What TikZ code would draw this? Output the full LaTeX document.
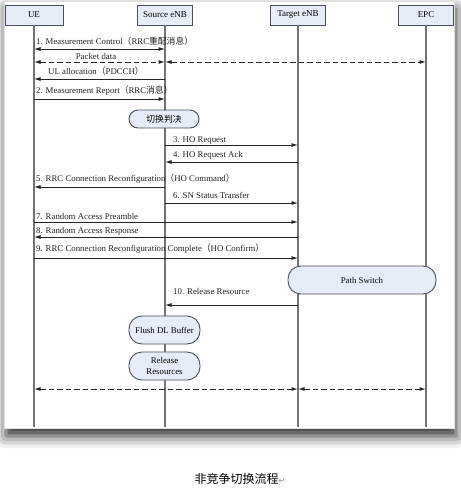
\documentclass[tikz,border=0pt]{standalone}
\usepackage{fontspec}
\setmainfont{Liberation Serif}
\newfontfamily\zhfont{Noto Sans CJK SC}
\newfontfamily\djfont{DejaVu Sans}
\usetikzlibrary{arrows.meta,shadows.blur}
\definecolor{boxfill}{RGB}{230,236,248}
\definecolor{boxline}{RGB}{75,78,88}
\definecolor{lifec}{RGB}{115,115,115}
\definecolor{msgc}{RGB}{35,35,35}
\begin{document}
\begin{tikzpicture}[x=1pt,y=-1pt,
  head/.style={draw=boxline,line width=0.9pt,fill=boxfill,minimum width=55pt,minimum height=20pt,inner sep=0pt,font=\fontsize{9}{10}\selectfont},
  life/.style={draw=lifec,line width=1.4pt},
  rbox/.style={draw=boxline,line width=0.9pt,fill=boxfill,rounded corners=9pt,inner sep=0pt,align=center,font=\fontsize{8.8}{11}\selectfont},
  msg/.style={draw=msgc,line width=0.9pt,-{Latex[length=6.5pt,width=4pt]}},
  dmsg/.style={draw=msgc,line width=1pt,dash pattern=on 5.5pt off 3pt,{Latex[length=6.5pt,width=4pt]}-{Latex[length=6.5pt,width=4pt]}},
  lbl/.style={anchor=base west,inner sep=0pt,font=\fontsize{8.8}{10}\selectfont,text=msgc}]
\useasboundingbox (0,0) rectangle (461,488);
\fill[white,draw=black!12,blur shadow={shadow xshift=2pt,shadow yshift=-8pt,shadow blur radius=12pt,shadow opacity=85}] (4,1) rectangle (454,428);

% headers
\node[head,minimum width=58pt] (ue) at (34,15) {UE};
\node[head] (src) at (165,15) {Source eNB};
\node[head] (tgt) at (298,15) {Target eNB};
\node[head] (epc) at (426,15) {EPC};

% lifeline ends
\coordinate (ueE) at (34,427);
\coordinate (srcE) at (165,427);
\coordinate (tgtE) at (298,427);
\coordinate (epcE) at (426,427);
\draw[life] (ue.south) -- (ueE);
\draw[life] (src.south) -- (srcE);
\draw[life] (tgt.south) -- (tgtE);
\draw[life] (epc.south) -- (epcE);

% message anchor coordinates
\foreach \n/\y in {a/49,b/62,c/79,d/99,e/145,f/162,g/187,h/203,i/222,j/237,k/258,l/305,m/389}{
  \coordinate (ue\n) at (34,\y);
  \coordinate (src\n) at (165,\y);
  \coordinate (tgt\n) at (298,\y);
  \coordinate (epc\n) at (426,\y);
}

% 1
\draw[msg,{Latex[length=6.5pt,width=4pt]}-{Latex[length=6.5pt,width=4pt]}] (uea) -- (srca);
\node[lbl] (l1) at (36,44) {1. Measurement Control{\zhfont（}RRC{\zhfont 重配消息）}};
% packet data
\draw[dmsg] (ueb) -- (srcb);
\draw[dmsg] (srcb) -- (epcb);
\node[lbl,anchor=base] (l2) at (96,59) {Packet data};
% UL allocation
\draw[msg] (srcc) -- (uec);
\node[lbl] (l3) at (48,74) {UL allocation{\zhfont（}PDCCH{\zhfont ）}};
% 2
\draw[msg] (ued) -- (srcd);
\node[lbl] (l4) at (36,93) {2. Measurement Report{\zhfont（}RRC{\zhfont 消息）}};
% decision
\node[rbox,minimum width=70pt,minimum height=18pt] (dec) at (164,119) {\zhfont 切换判决};
% 3
\draw[msg] (srce) -- (tgte);
\node[lbl] (l5) at (173,142) {3. HO Request};
% 4
\draw[msg] (tgtf) -- (srcf);
\node[lbl] (l6) at (173,157) {4. HO Request Ack};
% 5
\draw[msg] (srcg) -- (ueg);
\node[lbl] (l7) at (36,181) {5. RRC Connection Reconfiguration{\zhfont（}HO Command{\zhfont ）}};
% 6
\draw[msg] (srch) -- (tgth);
\node[lbl] (l8) at (173,198) {6. SN Status Transfer};
% 7
\draw[msg] (uei) -- (tgti);
\node[lbl] (l9) at (36,219) {7. Random Access Preamble};
% 8
\draw[msg] (tgtj) -- (uej);
\node[lbl] (l10) at (36,233) {8. Random Access Response};
% 9
\draw[msg] (uek) -- (tgtk);
\node[lbl] (l11) at (36,251) {9. RRC Connection Reconfiguration Complete{\zhfont（}HO Confirm{\zhfont ）}};
% path switch
\node[rbox,minimum width=148pt,minimum height=28pt,rounded corners=13pt] (ps) at (362,280) {Path Switch};
% 10
\draw[msg] (tgtl) -- (srcl);
\node[lbl] (l12) at (173,294) {10. Release Resource};
% flush
\node[rbox,minimum width=71pt,minimum height=28pt,rounded corners=13pt] (fl) at (164.5,330) {Flush DL Buffer};
\node[rbox,minimum width=71pt,minimum height=28pt,rounded corners=13pt] (rr) at (164.5,366) {Release\\Resources};
% final data
\draw[dmsg] (uem) -- (tgtm);
\draw[dmsg] (tgtm) -- (epcm);

% caption
\node[inner sep=0pt] (cap) at (240,479) {{\zhfont\fontsize{12}{14}\selectfont 非竞争切换流程}{\djfont\fontsize{8}{10}\selectfont\color{black!45}↵}};
\end{tikzpicture}
\end{document}
